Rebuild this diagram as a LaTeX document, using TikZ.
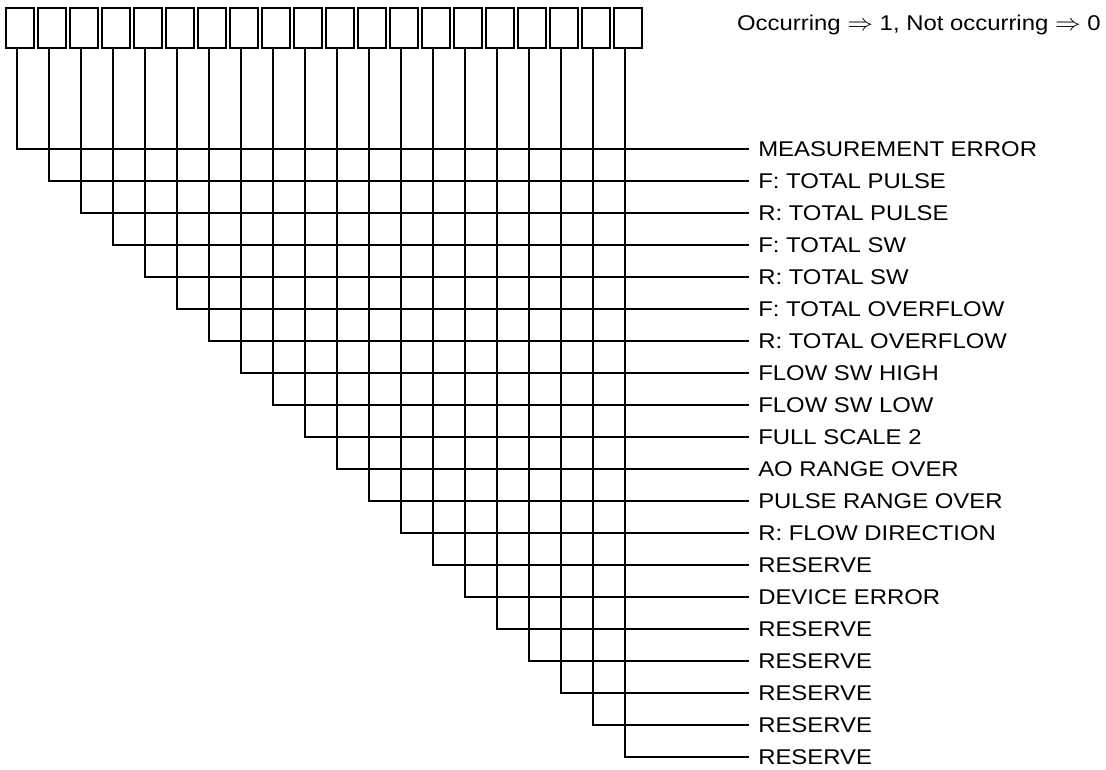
\documentclass[tikz,border=0pt]{standalone}
\usepackage{fontspec}
\setmainfont{Liberation Sans}
\begin{document}
\begin{tikzpicture}[x=0.75pt,y=-0.75pt,
  bitbox/.style={draw,line width=1.5pt,minimum width=21pt,minimum height=30pt,inner sep=0pt,anchor=north west},
  lbl/.style={anchor=west,inner xsep=6.75pt,inner ysep=0pt,font=\fontsize{16pt}{18pt}\selectfont},
  wire/.style={line width=1.5pt}]
\useasboundingbox (0,0) rectangle (1106,769);
\fill[white] (0,0) rectangle (1106,769);
\node[anchor=east,inner sep=0pt,font=\fontsize{16pt}{18pt}\selectfont] (note) at (1101,25)
  {\scalebox{1.12}[1]{Occurring $\Rightarrow$ 1, Not occurring $\Rightarrow$ 0}};
\foreach \i/\t in {0/MEASUREMENT ERROR,1/F: TOTAL PULSE,2/R: TOTAL PULSE,3/F: TOTAL SW,
  4/R: TOTAL SW,5/F: TOTAL OVERFLOW,6/R: TOTAL OVERFLOW,7/FLOW SW HIGH,8/FLOW SW LOW,
  9/FULL SCALE 2,10/AO RANGE OVER,11/PULSE RANGE OVER,12/R: FLOW DIRECTION,13/RESERVE,
  14/DEVICE ERROR,15/RESERVE,16/RESERVE,17/RESERVE,18/RESERVE,19/RESERVE}{
  \node[bitbox] (b\i) at ({5+32*\i},7) {};
  \node[lbl] (l\i) at (749,{149+32*\i}) {\scalebox{1.12}[1]{\t}};
  \coordinate (s\i) at ({17+32*\i},47);
  \draw[wire] (s\i) |- (l\i.west);
}
\end{tikzpicture}
\end{document}
